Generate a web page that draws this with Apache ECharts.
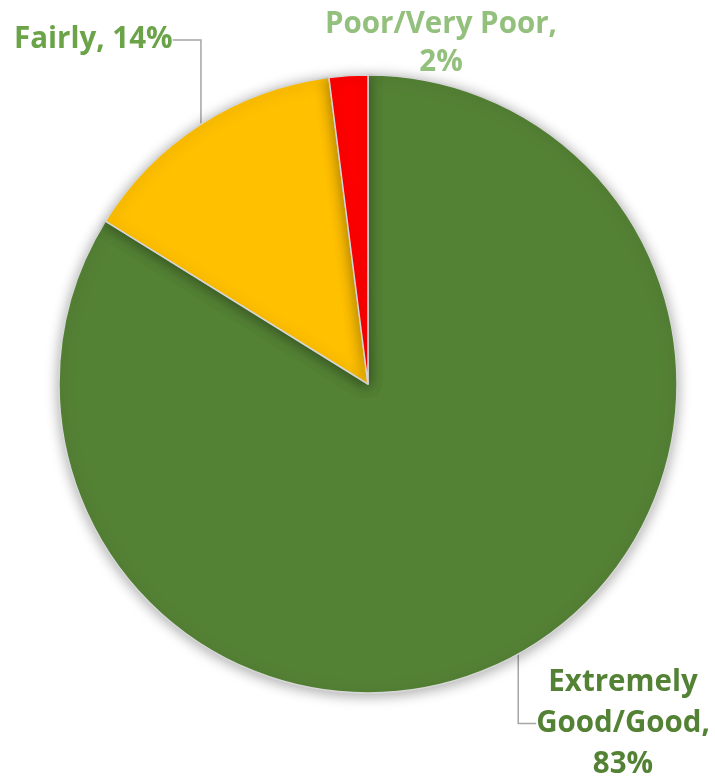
<!DOCTYPE html>
<html>
<head>
<meta charset="utf-8">
<script src="https://cdn.jsdelivr.net/npm/echarts@6/dist/echarts.min.js"></script>
<style>
  html, body { margin: 0; padding: 0; background: #ffffff; }
  #chart { width: 715px; height: 783px; }
</style>
</head>
<body>
<div id="chart"></div>
<script>
// ---- Data ----
const categories = ['Extremely\nGood/Good', 'Fairly', 'Poor/Very Poor'];
const values = [83, 14, 2];
const sliceColors = ['#548235', '#FFC000', '#FF0000'];
const labelColors = ['#548235', '#6BA348', '#93C07D'];
const separators = [',\n', ', ', ',\n'];

// ---- Label placement (layout only) ----
const labelPlacement = [
  { x: 623, y: 662, align: 'center', verticalAlign: 'top', lh: 41 },
  { x: 14, y: 40, align: 'left', verticalAlign: 'middle', lh: 40 },
  { x: 441, y: 6, align: 'center', verticalAlign: 'top', lh: 38 }
];
const showLine = [true, true, false];

const chart = echarts.init(document.getElementById('chart'), null, { renderer: 'canvas' });

const seriesData = categories.map((name, i) => ({
  name: name,
  value: values[i],
  itemStyle: { color: sliceColors[i] },
  label: {
    color: labelColors[i],
    lineHeight: labelPlacement[i].lh,
    formatter: '{b}' + separators[i] + '{c}%'
  },
  labelLine: { show: showLine[i] }
}));

chart.setOption({
  animation: false,
  series: [{
    type: 'pie',
    center: [368, 384],
    radius: 309,
    startAngle: 90,
    clockwise: true,
    selectedMode: false,
    avoidLabelOverlap: false,
    emphasis: { disabled: true },
    itemStyle: {
      borderColor: '#D6D6D6',
      borderWidth: 1.5,
      shadowBlur: 14,
      shadowColor: 'rgba(0,0,0,0.35)',
      shadowOffsetY: 2
    },
    label: {
      show: true,
      position: 'outside',
      fontFamily: '"Open Sans", sans-serif',
      fontWeight: 'bold',
      fontSize: 29.5,
      align: 'center'
    },
    labelLine: {
      show: true,
      lineStyle: { color: '#A6A6A6', width: 1.5 }
    },
    labelLayout: function (params) {
      const p = labelPlacement[params.dataIndex];
      return { x: p.x, y: p.y, align: p.align, verticalAlign: p.verticalAlign };
    },
    data: seriesData
  }]
});
</script>
</body>
</html>
